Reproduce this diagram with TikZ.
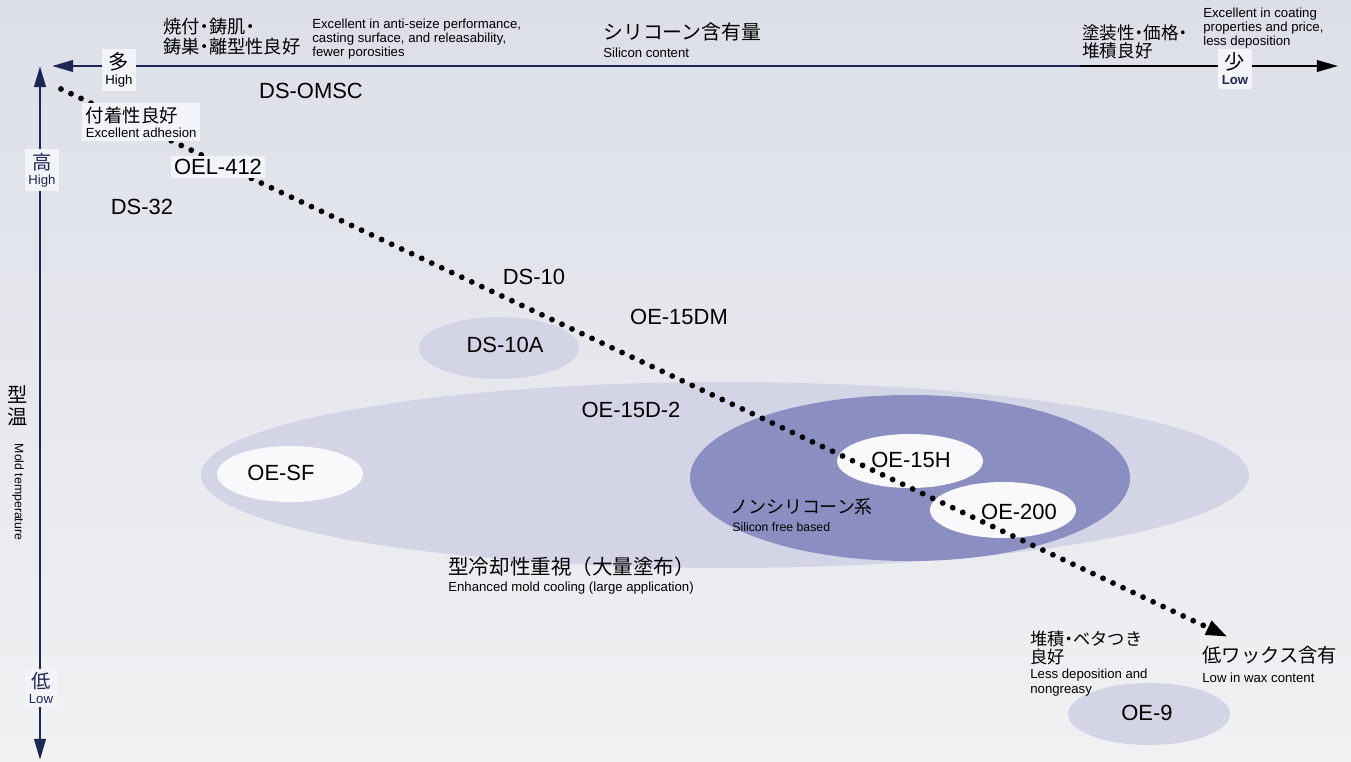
\documentclass[tikz,border=0pt]{standalone}
\usepackage{fontspec}
\setmainfont{Liberation Sans}
\newfontfamily\jpfont{Noto Sans CJK JP}
\newfontfamily\jpdot{Noto Sans CJK JP}[RawFeature=+halt]
\usepackage{xcolor}
\definecolor{bgtop}{HTML}{DCDFE8}
\definecolor{bgbot}{HTML}{F1F1F3}
\definecolor{lav}{HTML}{D3D5E7}
\definecolor{lavdark}{HTML}{8B8EC1}
\definecolor{lavpale}{HTML}{F9F9FB}
\definecolor{navy}{HTML}{1C2754}
\definecolor{boxfill}{HTML}{F3F4F8}
\usepackage{tikz}
\usetikzlibrary{arrows.meta}
\tikzset{
    model/.style={
        font=\fontsize{12.5}{15}\selectfont,
        inner sep=0pt
    },
    eng/.style={
        font=\fontsize{7.5}{8.2}\selectfont,
        inner sep=0pt, anchor=west, align=left
    },
    jp/.style={
        font=\jpfont\fontsize{10}{11.4}\selectfont,
        inner sep=0pt, anchor=west, align=left
    },
    tag/.style={fill=boxfill, inner sep=2pt, align=center,
        font=\fontsize{7.5}{8.6}\selectfont},
    axis/.style={line width=1.6pt, color=navy},
    trend/.style={
        line width=3.3pt, line cap=round,
        dash pattern=on 0pt off 6.3pt,
        -{Triangle[length=12.5pt, width=8pt]},
    },
}
\begin{document}
\begin{tikzpicture}[x=0.02cm, y=-0.02cm]
        \shade[top color=bgtop, bottom color=bgbot] (0,0) rectangle (1351,761);
        \useasboundingbox (0,0) rectangle (1351,761);

        \fill[lav] (725,475) ellipse [x radius=524, y radius=93];
        \fill[lavdark] (910,478) ellipse [x radius=220, y radius=83];
        \fill[lavpale] (910,461) ellipse [x radius=73, y radius=27];
        \fill[lavpale] (1003,510) ellipse [x radius=73, y radius=28];
        \fill[lavpale] (290,474) ellipse [x radius=73, y radius=28];
        \fill[lav] (499,348) ellipse [x radius=80, y radius=31];
        \fill[lav] (1149,714) ellipse [x radius=81, y radius=31];

        \coordinate (hsplit) at (1080,66);
        \coordinate (hhigh) at (52,66);
        \coordinate (hlow) at (1338,66);
        \coordinate (vtop) at (40,66);
        \coordinate (vbot) at (40,760);
        \draw[axis, -{Triangle[length=12pt, width=6.5pt]}] (hsplit) -- (hhigh);
        \draw[axis, color=black, line width=1.3pt, -{Triangle[length=12pt, width=6.5pt]}] (hsplit) -- (hlow);
        \draw[axis, {Triangle[length=12pt, width=6.5pt]}-{Triangle[length=12pt, width=6.5pt]}] (vtop) -- (vbot);

        \coordinate (wstart) at (61,89);
        \coordinate (wend) at (1228,637);
        \draw[trend] (wstart) -- (wend);

        \foreach \lbl/\x/\y in {DS-OMSC/311/91, DS-32/142/207, DS-10/534/277, OE-15DM/679/317,
            DS-10A/505/345, OE-15D-2/631/410, OE-SF/281/473, OE-15H/911/460, OE-200/1019/512, OE-9/1147/713}
            \node[model] (\lbl) at (\x,\y) {\lbl};
        \node[tag, font=\fontsize{12.5}{15}\selectfont] (OEL-412) at (218,167) {OEL-412};

        \node[tag, anchor=north west, align=left] (adhesion) at (82,103) {{\jpfont\fontsize{10.5}{9}\selectfont 付着性良好}\\Excellent adhesion};
        \node[tag] (many) at (119,70) {{\jpfont\fontsize{11.5}{9}\selectfont 多}\\High};
        \node[tag] (few) at (1235,69) {{\jpfont\fontsize{11.5}{9}\selectfont 少}\\\textbf{\color{navy}Low}};
        \node[tag, text=navy] (hot) at (42,170) {{\jpfont\fontsize{11}{9}\selectfont 高}\\High};
        \node[tag, text=navy] (cold) at (41,688) {{\jpfont\fontsize{11}{9}\selectfont 低}\\Low};
        \node[jp, anchor=center, align=center, font=\jpfont\fontsize{11.5}{12.5}\selectfont] (moldjp) at (18,406) {型\\温};
        \node[eng, anchor=center, rotate=-90, font=\fontsize{7}{8}\selectfont] (molden) at (18,492) {Mold temperature};

        \node[jp, font=\jpdot\fontsize{10.4}{11.4}\selectfont] (antiseize) at (163,37) {焼付・鋳肌・\\鋳巣・離型性良好};
        \node[eng] (antiseizeen) at (312,39) {Excellent in anti-seize performance,\\casting surface, and releasability,\\fewer porosities};
        \node[jp, font=\jpfont\fontsize{11.3}{13}\selectfont] (silicon) at (603,32) {シリコーン含有量};
        \node[eng] (siliconen) at (603,53) {Silicon content};
        \node[jp, font=\jpdot\fontsize{10}{10.2}\selectfont] (coating) at (1082,42) {塗装性・価格・\\堆積良好};
        \node[eng] (coatingen) at (1203,28) {Excellent in coating\\properties and price,\\less deposition};

        \node[jp, font=\jpfont\fontsize{10.2}{12}\selectfont] (nonsil) at (730,507) {ノンシリコーン系};
        \node[eng, font=\fontsize{7}{8}\selectfont] (nonsilen) at (732,527) {Silicon free based};
        \node[jp, font=\jpfont\fontsize{11.7}{13}\selectfont] (cooling) at (448,567) {型冷却性重視（大量塗布）};
        \node[eng] (coolingen) at (448,588) {Enhanced mold cooling (large application)};
        \node[jp, font=\jpdot\fontsize{9.8}{10.2}\selectfont] (greasy) at (1030,648) {堆積・ベタつき\\良好};
        \node[eng, font=\fontsize{7.5}{8.5}\selectfont] (greasyen) at (1030,683) {Less deposition and\\nongreasy};
        \node[jp, font=\jpfont\fontsize{11}{13}\selectfont] (lowwax) at (1202,655) {低ワックス含有};
        \node[eng] (lowwaxen) at (1202,678) {Low in wax content};
    \end{tikzpicture}
\end{document}
